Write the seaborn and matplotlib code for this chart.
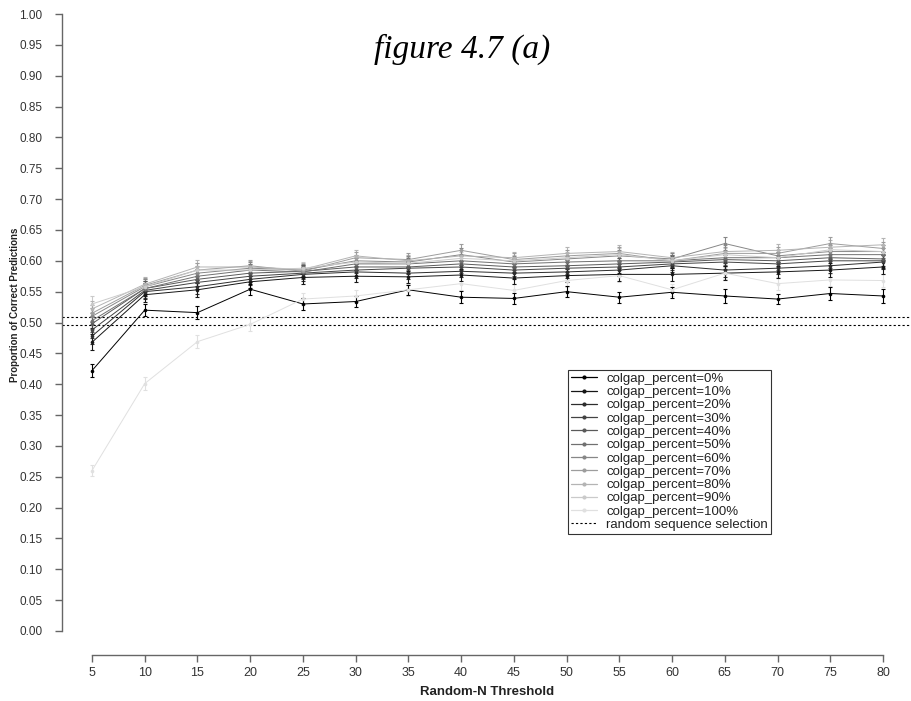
import numpy as np
import pandas as pd
import matplotlib
matplotlib.use("Agg")
import matplotlib.pyplot as plt
import seaborn as sns
from matplotlib.lines import Line2D

# Random-N thresholds on the x axis
thresholds = [5, 10, 15, 20, 25, 30, 35, 40, 45, 50, 55, 60, 65, 70, 75, 80]

# Mean proportion of correct predictions per column-gap percentage
gap_0 = [0.422, 0.520, 0.516, 0.554, 0.530, 0.534, 0.553, 0.541, 0.539, 0.550, 0.541, 0.549, 0.543, 0.538, 0.547, 0.543]
gap_10 = [0.468, 0.545, 0.553, 0.566, 0.573, 0.575, 0.574, 0.577, 0.572, 0.576, 0.578, 0.578, 0.580, 0.582, 0.585, 0.590]
gap_20 = [0.478, 0.550, 0.558, 0.570, 0.578, 0.582, 0.580, 0.583, 0.580, 0.582, 0.585, 0.592, 0.585, 0.588, 0.592, 0.598]
gap_30 = [0.488, 0.552, 0.565, 0.575, 0.580, 0.585, 0.588, 0.590, 0.585, 0.588, 0.590, 0.595, 0.598, 0.595, 0.600, 0.600]
gap_40 = [0.498, 0.555, 0.570, 0.580, 0.583, 0.590, 0.590, 0.595, 0.590, 0.592, 0.595, 0.598, 0.602, 0.600, 0.605, 0.603]
gap_50 = [0.503, 0.555, 0.575, 0.585, 0.582, 0.595, 0.595, 0.600, 0.595, 0.598, 0.600, 0.600, 0.605, 0.605, 0.610, 0.610]
gap_60 = [0.510, 0.558, 0.580, 0.588, 0.585, 0.600, 0.598, 0.610, 0.598, 0.603, 0.608, 0.603, 0.628, 0.608, 0.615, 0.615]
gap_70 = [0.515, 0.560, 0.585, 0.592, 0.583, 0.605, 0.602, 0.617, 0.602, 0.608, 0.612, 0.600, 0.612, 0.612, 0.628, 0.620]
gap_80 = [0.522, 0.562, 0.590, 0.590, 0.586, 0.608, 0.600, 0.608, 0.605, 0.612, 0.615, 0.605, 0.615, 0.617, 0.622, 0.626]
gap_90 = [0.530, 0.558, 0.585, 0.585, 0.588, 0.598, 0.596, 0.604, 0.600, 0.605, 0.610, 0.600, 0.610, 0.605, 0.618, 0.615]
gap_100 = [0.260, 0.401, 0.469, 0.497, 0.538, 0.543, 0.553, 0.563, 0.552, 0.568, 0.576, 0.553, 0.580, 0.563, 0.569, 0.568]

# Standard-error half widths
err_gap_0 = [0.011, 0.010, 0.010, 0.009, 0.010, 0.009, 0.008, 0.010, 0.009, 0.009, 0.009, 0.009, 0.011, 0.008, 0.010, 0.011]
err_gap_mid = [0.013, 0.012, 0.011, 0.010, 0.010, 0.010, 0.010, 0.010, 0.010, 0.010, 0.010, 0.010, 0.011, 0.010, 0.011, 0.011]
err_gap_100 = [0.009, 0.010, 0.010, 0.010, 0.010, 0.010, 0.010, 0.010, 0.010, 0.010, 0.010, 0.010, 0.010, 0.010, 0.010, 0.010]

gap_labels = ["0%", "10%", "20%", "30%", "40%", "50%", "60%", "70%", "80%", "90%", "100%"]
gap_series = [gap_0, gap_10, gap_20, gap_30, gap_40, gap_50, gap_60, gap_70, gap_80, gap_90, gap_100]
gap_errors = [err_gap_0] + [err_gap_mid] * 9 + [err_gap_100]

# Expected proportion under random sequence selection (bounds)
random_bounds = [0.509, 0.496]

sns.set_theme(style="white")
plt.rcParams["font.family"] = ["Liberation Sans", "DejaVu Sans"]

rows = []
for lab, vals, errs in zip(gap_labels, gap_series, gap_errors):
    for t, v, e in zip(thresholds, vals, errs):
        rows.append({"threshold": t, "proportion": v, "err": e,
                     "gap": "colgap_percent=" + lab})
df = pd.DataFrame(rows)
hue_order = ["colgap_percent=" + g for g in gap_labels]

levels = np.linspace(0.0, 0.88, len(gap_labels))
palette = {h: (l, l, l) for h, l in zip(hue_order, levels)}

fig = plt.figure(figsize=(9.12, 7.01), dpi=100)
W, H = 912, 701
ax = fig.add_axes([62 / W, (H - 655) / H, (W - 62) / W, 655 / H])

# light series first so the darker ones sit on top
for h in hue_order[::-1]:
    sub = df[df["gap"] == h]
    ax.errorbar(sub["threshold"], sub["proportion"], yerr=sub["err"],
                fmt="none", ecolor=palette[h], elinewidth=0.8,
                capsize=1.6, capthick=0.8, zorder=2)

sns.lineplot(data=df.iloc[::-1], x="threshold", y="proportion", hue="gap",
             hue_order=hue_order, palette=palette, marker="o",
             markersize=2.6, markeredgewidth=0, linewidth=0.7,
             legend=False, ax=ax, zorder=3)

for yb in random_bounds:
    ax.axhline(yb, color="black", linestyle=(0, (2, 2)), linewidth=0.8, zorder=1)

ax.set_xlim(2.156, 82.75)
ax.set_ylim(-0.0389, 1.0227)
ax.set_xticks(thresholds)
ax.set_xticklabels([str(t) for t in thresholds], fontsize=9, color="#333333")
yt = np.round(np.arange(0, 1.0001, 0.05), 2)
ax.set_yticks(yt)
ax.set_yticklabels([f"{v:.2f}" for v in yt], fontsize=8.5, color="#333333")

for side in ["top", "right"]:
    ax.spines[side].set_visible(False)
ax.spines["left"].set_bounds(0, 1)
ax.spines["bottom"].set_bounds(5, 80)
for side in ["left", "bottom"]:
    ax.spines[side].set_color("#666666")
    ax.spines[side].set_linewidth(1.0)
ax.tick_params(axis="both", direction="out", length=5, width=1.0,
               color="#666666", left=True, bottom=True)
ax.tick_params(axis="x", pad=4)
ax.tick_params(axis="y", pad=9)
ax.grid(False)
ax.set_xlabel("")
ax.set_ylabel("")

fig.text(487 / W, 1 - 692 / H, "Random-N Threshold", ha="center", va="center",
         fontsize=9.5, fontweight="bold", color="#222222")
fig.text(15 / W, 1 - 305 / H, "Proportion of Correct Predictions", ha="center",
         va="center", rotation=90, fontsize=7, fontweight="bold", color="#222222")
fig.text(462 / W, 1 - 49 / H, "figure 4.7 (a)", ha="center", va="center",
         fontsize=24, fontstyle="italic", family="Liberation Serif", color="black")

handles = [Line2D([], [], color=palette[h], marker="o", markersize=3,
                  markeredgewidth=0, linewidth=0.9, label=h) for h in hue_order]
handles.append(Line2D([], [], color="black", linestyle=(0, (2, 2)),
                      linewidth=0.8, label="random sequence selection"))
leg = fig.legend(handles=handles, loc="upper left",
                 bbox_to_anchor=(568 / W, 1 - 370 / H), frameon=True,
                 fancybox=False, fontsize=9.5, handlelength=2.0,
                 handletextpad=0.7, labelspacing=0.08, borderpad=0.2,
                 borderaxespad=0)
leg.get_frame().set_edgecolor("black")
leg.get_frame().set_linewidth(0.8)
for t in leg.get_texts():
    t.set_color("#222222")

fig.savefig("out.png", dpi=100, facecolor="white")
